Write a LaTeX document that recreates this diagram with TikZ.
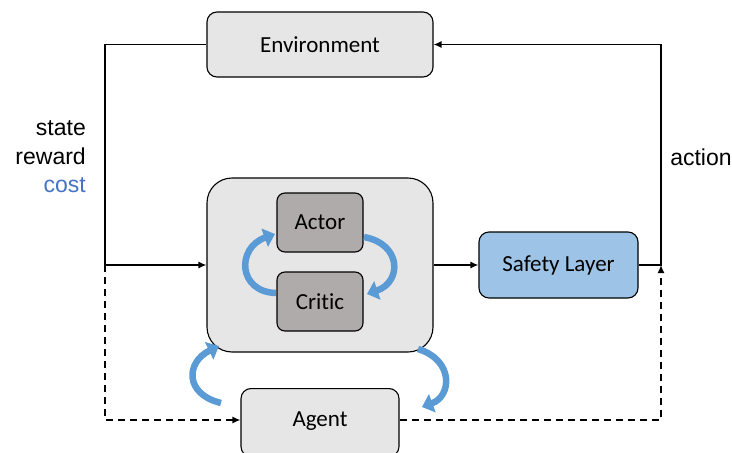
\documentclass[tikz,border=0pt]{standalone}
\usepackage{fontspec}
\setmainfont[Ligatures=NoCommon]{Carlito}
\newfontfamily\labelfont{Liberation Sans}
\usetikzlibrary{arrows.meta}
\definecolor{boxgray}{HTML}{E7E6E6}
\definecolor{innergray}{HTML}{AFABAB}
\definecolor{safeblue}{HTML}{9DC3E6}
\definecolor{loopblue}{HTML}{5B9BD5}
\definecolor{costblue}{HTML}{4472C4}
\begin{document}
\begin{tikzpicture}[x=1pt,y=-1pt,
  block/.style={draw, line width=1.1pt, rounded corners=10pt, fill=boxgray,
    font=\fontsize{23}{27}\selectfont, inner sep=0pt},
  flow/.style={line width=1.4pt, -{Latex[length=8pt,width=7pt]}},
  flowdash/.style={flow, dash pattern=on 7pt off 5pt},
  loop/.style={draw=loopblue, line width=6.5pt,
    -{Triangle[length=11pt,width=19pt]}},
  lbl/.style={font=\labelfont\fontsize{23}{28.5}\selectfont, inner sep=0pt}]
\useasboundingbox (0,0) rectangle (732,453);
\begin{scope}
\clip (0,0) rectangle (732,453);

% main blocks
\node[block, minimum width=226pt, minimum height=65pt] (env) at (320,44.5) {Environment};
\node[block, minimum width=226pt, minimum height=174pt, rounded corners=25pt] (core) at (320,265) {};
\node[block, fill=innergray, rounded corners=8pt, minimum width=86pt, minimum height=59pt] (actor) at (320,222.5) {Actor};
\node[block, fill=innergray, rounded corners=8pt, minimum width=86pt, minimum height=59pt] (critic) at (320,301.5) {Critic};
\node[block, fill=safeblue, minimum width=159pt, minimum height=66pt] (safe) at (558.5,265) {Safety Layer};
\node[block, minimum width=158pt, minimum height=68pt, anchor=north] (agent) at (320,388) {};
\node at (320,421.5) {\fontsize{23}{27}\selectfont Agent};

% junction points
\coordinate (jl) at (105,265);
\coordinate (jr) at (661,265);

% observations from the environment
\draw[flow] (env.west) -| (jl) -- (core.west |- jl);
\draw[flowdash] (jl) |- (agent.west |- 0,420);
% action path
\draw[flow] (core.east |- jl) -- (safe.west);
\draw[flow] (safe.east) -- (jr) |- (env.east);
\draw[flowdash] (agent.east |- 0,420) -| (jr);

% update loops
\draw[loop] (276,293) .. controls (238,292) and (236,248) .. (275,234);
\draw[loop] (364,237) .. controls (402,244) and (402,282) .. (367,294);
\draw[loop] (221,403) .. controls (184,394) and (186,362) .. (219,346);
\draw[loop] (418,349) .. controls (454,360) and (452,396) .. (422,407);
\end{scope}

% labels
\node[lbl, anchor=east, align=right] (obs) at (86,157) {state\\reward\\\textcolor{costblue}{cost}};
\node[lbl] (act) at (701,157) {action};
\end{tikzpicture}
\end{document}
